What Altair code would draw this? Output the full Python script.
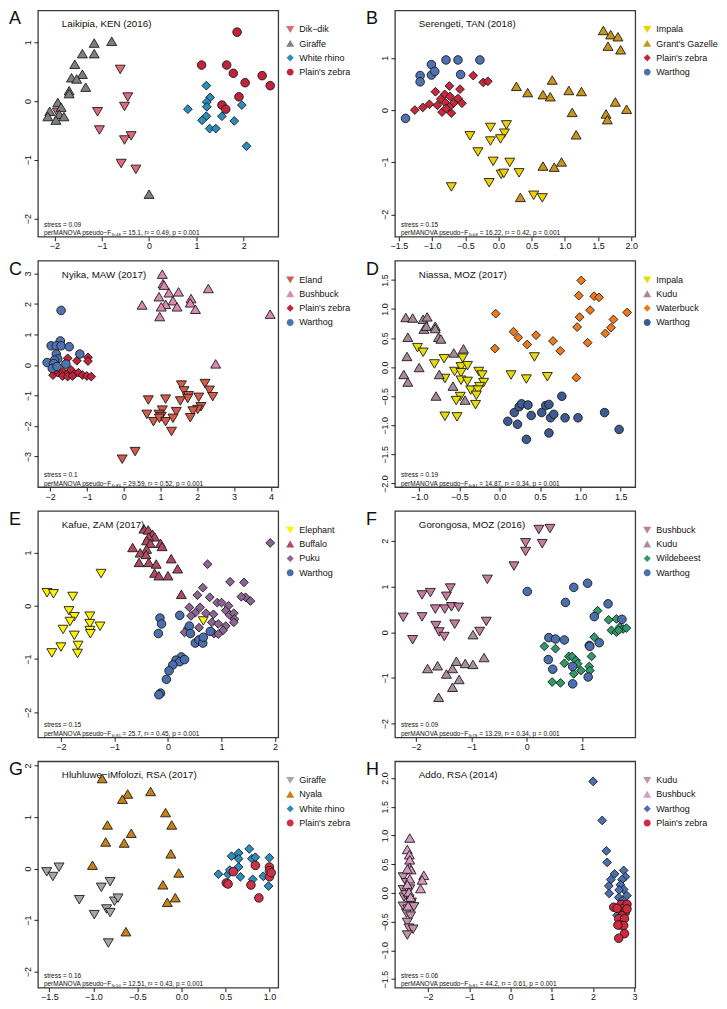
import altair as alt
import pandas as pd

FONT = "Liberation Sans"
# unit-box symbol paths: down triangle, up triangle, diamond, circle (R pch 25, 24, 23, 21 look)
SHAPES = [
    "M0,0.9L1,-0.8L-1,-0.8Z",
    "M0,-0.9L1,0.8L-1,0.8Z",
    "M0,-0.88L0.88,0L0,0.88L-0.88,0Z",
    "M0.86,0A0.86,0.86,0,1,1,-0.86,0A0.86,0.86,0,1,1,0.86,0Z",
]

# ---------------- Panel A ----------------
A_SITE = "Laikipia, KEN (2016)"
A_SPECIES = ["Dik−dik", "Giraffe", "White rhino", "Plain's zebra"]
A_COLORS = ["#E5687C", "#7F7F7F", "#2B8CBE", "#C0233A"]
A_DIKDIK = [(-0.61, 0.54), (-0.45, 0.07), (-0.52, -0.09), (-1.09, -0.18), (-1.05, -0.49),
            (-0.38, -0.59), (-0.52, -0.66), (-0.59, -1.06), (-0.28, -1.16), (-1.94, -0.19)]
A_GIRAFFE = [(-1.16, 0.98), (-0.79, 1.01), (-1.41, 0.80), (-1.16, 0.80), (-1.57, 0.62), (-1.64, 0.39),
             (-1.41, 0.45), (-1.53, 0.37), (-1.34, 0.23), (-1.69, 0.17), (-1.69, 0.12), (-1.93, -0.03),
             (-1.86, -0.11), (-2.10, -0.18), (-1.90, -0.23), (-1.80, -0.27), (-2.14, -0.27), (-1.97, -0.33),
             (0.0, -1.59)]
A_RHINO = [(0.82, -0.14), (1.21, 0.26), (1.29, 0.06), (1.22, -0.02), (1.22, -0.10), (1.21, -0.26),
           (1.12, -0.33), (1.28, -0.47), (1.41, -0.47), (1.54, -0.26), (1.96, -0.07), (1.80, -0.34),
           (2.06, -0.77)]
A_ZEBRA = [(1.86, 1.17), (1.11, 0.61), (1.64, 0.61), (1.78, 0.47), (2.03, 0.31), (2.39, 0.43),
           (2.56, 0.26), (1.90, 0.07), (1.54, -0.07), (1.62, -0.14)]
A_STRESS = "stress = 0.09"
A_PERM = "perMANOVA pseudo−F₃,₄₈ = 15.1, r² = 0.49, p = 0.001"
A_XDOM, A_YDOM = [-2.35, 2.73], [-2.31, 1.54]
A_XTICKS, A_YTICKS = [-2, -1, 0, 1, 2], [-2, -1, 0, 1]

# ---------------- Panel B ----------------
B_SITE = "Serengeti, TAN (2018)"
B_SPECIES = ["Impala", "Grant's Gazelle", "Plain's zebra", "Warthog"]
B_COLORS = ["#F0D000", "#C8961A", "#C8283C", "#4F72B0"]
B_IMPALA = [(-0.43, -0.49), (-0.12, -0.33), (0.12, -0.28), (0.09, -0.44), (-0.12, -0.59), (0.03, -0.55),
            (-0.31, -0.80), (-0.08, -0.98), (0.17, -1.00), (0.04, -1.23), (0.08, -1.21), (0.31, -1.20),
            (-0.14, -1.39), (-0.71, -1.47), (0.53, -1.63), (0.66, -1.68)]
B_GAZELLE = [(1.58, 1.52), (1.69, 1.44), (1.80, 1.40), (1.65, 1.22), (1.84, 1.15), (1.76, 0.15),
             (1.93, 0.01), (1.62, -0.08), (1.64, -0.19), (0.27, 0.45), (0.44, 0.33), (0.67, 0.29),
             (0.78, 0.25), (0.81, 0.57), (1.06, 0.37), (1.25, 0.35), (1.11, -0.05), (1.17, -0.48),
             (0.95, -1.00), (0.84, -1.10), (0.67, -1.08), (0.33, -1.68)]
B_ZEBRA = [(-1.26, 0.00), (-1.04, 0.11), (-0.95, 0.35), (-0.81, 0.30), (-0.74, 0.46), (-0.58, 0.40),
           (-0.38, 0.66), (-0.23, 0.53), (-0.16, 0.55), (-1.14, 0.05), (-0.87, 0.21), (-0.80, 0.14),
           (-0.73, 0.26), (-0.68, 0.13), (-0.61, 0.22), (-0.55, 0.13), (-0.85, -0.04), (-0.71, -0.06),
           (-0.74, 0.06), (-0.79, 0.03), (-0.92, 0.09)]
B_WARTHOG = [(-1.40, -0.16), (-1.18, 0.66), (-1.18, 0.54), (-1.01, 0.87), (-1.01, 0.67), (-0.96, 0.74),
             (-0.79, 0.96), (-0.61, 0.96), (-0.57, 0.68), (-0.28, 0.96)]
B_STRESS = "stress = 0.15"
B_PERM = "perMANOVA pseudo−F₃,₆₈ = 16.22, r² = 0.42, p = 0.001"
B_XDOM, B_YDOM = [-1.56, 2.06], [-2.43, 1.91]
B_XTICKS, B_YTICKS = [-1.5, -1.0, -0.5, 0.0, 0.5, 1.0, 1.5, 2.0], [-2, -1, 0, 1]

# ---------------- Panel C ----------------
C_SITE = "Nyika, MAW (2017)"
C_SPECIES = ["Eland", "Bushbuck", "Plain's zebra", "Warthog"]
C_COLORS = ["#D65A4A", "#D88AB0", "#C0233A", "#4F72B0"]
C_ELAND = [(1.57, -0.65), (1.64, -0.84), (1.76, -1.00), (1.74, -1.09), (2.21, -0.60), (2.33, -0.82),
           (2.42, -1.03), (2.04, -1.05), (0.67, -1.14), (1.14, -1.11), (1.54, -1.17), (2.10, -1.36),
           (2.01, -1.45), (1.88, -1.50), (1.05, -1.47), (1.43, -1.52), (0.63, -1.61), (0.96, -1.61),
           (1.02, -1.68), (1.81, -1.72), (0.81, -1.85), (0.97, -1.74), (1.14, -1.85), (1.34, -1.74),
           (1.30, -2.17), (0.31, -2.83), (-0.04, -3.08)]
C_BUSHBUCK = [(1.05, 2.97), (1.07, 2.66), (1.10, 2.61), (1.23, 2.36), (1.49, 2.39), (2.30, 2.50),
              (0.50, 1.96), (0.96, 2.23), (1.34, 2.10), (1.83, 2.17), (1.81, 2.03), (1.14, 1.98),
              (1.02, 1.90), (1.45, 1.90), (1.95, 1.82), (0.98, 1.58), (3.98, 1.66), (2.50, 0.03)]
C_ZEBRA = [(-1.52, 0.22), (-1.27, 0.14), (-0.97, 0.25), (-0.97, 0.13), (-1.92, -0.33), (-1.79, -0.25),
           (-1.65, -0.22), (-1.52, -0.27), (-1.43, -0.16), (-1.34, -0.29), (-1.23, -0.25), (-1.12, -0.33),
           (-1.00, -0.36), (-0.88, -0.38), (-1.66, -0.36), (-1.52, -0.38), (-1.84, -0.16), (-1.39, -0.36)]
C_WARTHOG = [(-1.70, 1.79), (-1.72, 0.79), (-1.97, 0.63), (-1.83, 0.63), (-1.70, 0.63), (-1.48, 0.60),
             (-1.19, 0.36), (-1.83, 0.36), (-1.79, 0.20), (-1.88, 0.16), (-2.08, 0.08), (-1.90, 0.05),
             (-1.57, 0.03), (-1.94, -0.11), (-1.81, -0.05)]
C_STRESS = "stress = 0.1"
C_PERM = "perMANOVA pseudo−F₃,₈₃ = 29.59, r² = 0.52, p = 0.001"
C_XDOM, C_YDOM = [-2.33, 4.20], [-4.0, 3.42]
C_XTICKS, C_YTICKS = [-2, -1, 0, 1, 2, 3, 4], [-3, -2, -1, 0, 1, 2, 3]

# ---------------- Panel D ----------------
D_SITE = "Niassa, MOZ (2017)"
D_SPECIES = ["Impala", "Kudu", "Waterbuck", "Warthog"]
D_COLORS = ["#E8DC00", "#A8899C", "#F07A1A", "#3D5A92"]
D_IMPALA = [(-1.02, 0.34), (-0.95, 0.26), (-0.81, 0.06), (-0.69, 0.15), (-0.68, -0.19), (-0.56, -0.07),
            (-0.46, 0.16), (-0.48, 0.01), (-0.40, 0.03), (-0.48, -0.09), (-0.48, -0.22), (-0.40, -0.24),
            (-0.36, -0.39), (-0.26, -0.07), (-0.22, -0.13), (-0.20, -0.26), (-0.25, -0.33), (-0.27, -0.39),
            (-0.29, -0.48), (-0.49, -0.50), (-0.54, -0.57), (-0.30, -0.64), (-0.68, -0.84), (-0.53, -0.85),
            (0.14, -0.13), (0.33, -0.20), (0.43, 0.18), (0.59, -0.16)]
D_KUDU = [(-1.165, 0.85), (-1.08, 0.84), (-0.95, 0.82), (-0.90, 0.86), (-0.94, 0.65), (-0.91, 0.70),
          (-0.80, 0.70), (-0.80, 0.66), (-0.76, 0.51), (-0.73, 0.48), (-1.14, 0.51), (-1.15, 0.18),
          (-1.19, -0.13), (-1.14, -0.26), (-1.00, -0.01), (-0.75, -0.13), (-0.79, -0.50), (-0.58, -0.33),
          (-0.57, 0.24), (-0.45, 0.31), (-0.43, -0.57)]
D_WATERBUCK = [(-0.05, 0.92), (-0.06, 0.32), (0.17, 0.61), (0.23, 0.51), (0.34, 0.39), (0.45, 0.55),
               (0.66, 0.45), (0.75, 0.28), (1.01, 1.49), (0.98, 1.23), (1.17, 1.22), (1.23, 1.20),
               (1.12, 0.98), (0.99, 0.86), (0.96, 0.69), (1.09, 0.42), (1.31, 0.58), (1.38, 0.68),
               (1.41, 0.82), (1.58, 0.94), (0.95, -0.18)]
D_WARTHOG = [(0.10, -0.93), (0.18, -0.78), (0.22, -0.98), (0.24, -0.68), (0.27, -0.63), (0.33, -1.24),
             (0.35, -0.65), (0.39, -0.83), (0.52, -0.78), (0.57, -0.66), (0.61, -0.64), (0.61, -1.13),
             (0.63, -0.87), (0.67, -0.81), (0.77, -0.50), (0.81, -0.87), (0.97, -0.87), (1.30, -0.78),
             (1.48, -1.07)]
D_STRESS = "stress = 0.19"
D_PERM = "perMANOVA pseudo−F₃,₈₇ = 14.87, r² = 0.34, p = 0.001"
D_XDOM, D_YDOM = [-1.30, 1.68], [-2.06, 1.83]
D_XTICKS, D_YTICKS = [-1.0, -0.5, 0.0, 0.5, 1.0, 1.5], [-2.0, -1.5, -1.0, -0.5, 0.0, 0.5, 1.0, 1.5]

# ---------------- Panel E ----------------
E_SITE = "Kafue, ZAM (2017)"
E_SPECIES = ["Elephant", "Buffalo", "Puku", "Warthog"]
E_COLORS = ["#FFF200", "#B04A62", "#8E6496", "#4A6FAF"]
E_ELEPHANT = [(-2.26, 0.25), (-2.14, 0.23), (-1.78, 0.18), (-1.25, 0.61), (-1.85, -0.09), (-1.75, -0.20),
              (-1.83, -0.29), (-1.96, -0.44), (-1.75, -0.55), (-1.46, -0.19), (-1.46, -0.33), (-1.27, -0.38),
              (-1.46, -0.46), (-1.45, -0.52), (-1.68, -0.74), (-2.00, -0.77), (-2.17, -0.88), (-1.69, -0.89),
              (0.66, -0.28)]
E_BUFFALO = [(-0.45, 1.44), (-0.37, 1.42), (-0.29, 1.34), (-0.25, 1.29), (-0.36, 1.29), (-0.40, 1.22),
             (-0.33, 1.17), (-0.14, 1.17), (-0.11, 1.11), (-0.66, 1.09), (-0.40, 1.06), (-0.52, 0.99),
             (-0.41, 0.96), (0.06, 0.88), (-0.54, 0.81), (-0.36, 0.81), (-0.22, 0.78), (0.18, 0.69),
             (-0.25, 0.61), (-0.17, 0.56), (0.0, 0.56), (0.25, 0.21)]
E_PUKU = [(1.91, 1.18), (0.74, 0.78), (1.16, 0.45), (1.42, 0.44), (0.65, 0.34), (0.55, 0.20), (0.78, 0.16),
          (0.40, -0.03), (0.60, -0.03), (0.51, -0.13), (0.43, -0.19), (0.71, -0.14), (0.85, -0.16),
          (0.92, 0.06), (1.00, 0.06), (1.13, 0.0), (1.08, -0.09), (1.15, -0.17), (1.23, -0.14),
          (1.24, -0.25), (1.23, -0.31), (1.45, 0.16), (1.37, 0.17), (1.54, 0.09), (0.58, -0.41),
          (0.82, -0.31), (0.94, -0.34), (1.08, -0.38), (1.03, -0.46), (0.86, -0.52), (0.94, -0.53),
          (0.37, -0.42), (0.31, -0.50)]
E_WARTHOG = [(-0.15, -0.23), (-0.12, -0.34), (-0.18, -0.52), (0.22, -0.18), (0.40, -0.38), (0.42, -0.52),
             (0.51, -0.70), (0.58, -0.64), (0.65, -0.70), (0.66, -0.59), (0.79, -0.48), (0.25, -0.96),
             (0.15, -1.02), (0.22, -1.05), (0.31, -1.01), (0.09, -1.11), (0.02, -1.22), (-0.03, -1.38),
             (-0.14, -1.64), (-0.17, -1.67)]
E_STRESS = "stress = 0.15"
E_PERM = "perMANOVA pseudo−F₃,₉₅ = 25.7, r² = 0.45, p = 0.001"
E_XDOM, E_YDOM = [-2.43, 2.06], [-2.47, 1.78]
E_XTICKS, E_YTICKS = [-2, -1, 0, 1, 2], [-2, -1, 0, 1]

# ---------------- Panel F ----------------
F_SITE = "Gorongosa, MOZ (2016)"
F_SPECIES = ["Bushbuck", "Kudu", "Wildebeest", "Warthog"]
F_COLORS = ["#C47C9E", "#A8909E", "#2E9A68", "#4A6FAF"]
F_BUSHBUCK = [(-2.23, 0.33), (-2.06, -0.16), (-1.89, 0.82), (-1.74, 0.87), (-1.89, 0.34), (-1.65, 0.51),
              (-1.48, 0.51), (-1.45, 0.79), (-1.38, 0.97), (-1.36, 0.56), (-1.23, 0.55), (-1.64, 0.15),
              (-1.58, 0.01), (-1.49, -0.09), (-1.30, 0.18), (-0.71, 1.16), (-0.73, 0.24), (-0.85, 0.02),
              (-0.23, 1.45), (-0.02, 1.96), (-0.02, 1.77), (0.28, 1.94), (0.22, 2.25), (0.42, 2.27)]
F_KUDU = [(-1.79, -0.80), (-1.61, -0.74), (-1.45, -0.92), (-1.34, -0.80), (-1.27, -0.64), (-1.22, -1.04),
          (-1.34, -1.21), (-1.59, -1.43), (-1.11, -0.69), (-0.97, -0.71), (-0.97, -0.06), (-0.77, -0.56)]
F_WILDEBEEST = [(0.32, -0.31), (0.52, -0.36), (0.46, -1.09), (0.61, -1.11), (0.76, -0.53), (0.82, -0.53),
                (0.89, -0.62), (0.92, -0.69), (0.68, -0.68), (0.85, -0.91), (0.98, -0.84), (1.17, -0.53),
                (1.13, -0.75), (1.14, -0.84), (1.22, -0.11), (1.28, 0.47), (1.48, 0.27), (1.62, 0.29),
                (1.53, 0.04), (1.62, 0.0), (1.68, 0.11), (1.74, 0.07), (1.80, 0.09), (1.66, 0.04)]
F_WARTHOG = [(0.01, 0.89), (0.85, 0.98), (1.10, 1.07), (0.70, 0.65), (1.47, 0.62), (1.22, 0.34),
             (1.72, 0.28), (0.40, -0.12), (0.52, -0.15), (0.68, -0.17), (1.13, -0.29), (1.14, -0.31),
             (1.31, -0.23), (0.39, -0.60), (0.47, -0.81), (0.83, -0.75), (0.83, -1.13), (1.11, -0.98)]
F_STRESS = "stress = 0.09"
F_PERM = "perMANOVA pseudo−F₃,₇₈ = 13.29, r² = 0.34, p = 0.001"
F_XDOM, F_YDOM = [-2.38, 1.96], [-2.30, 2.65]
F_XTICKS, F_YTICKS = [-2, -1, 0, 1], [-2, -1, 0, 1, 2]

# ---------------- Panel G ----------------
G_SITE = "Hluhluwe−iMfolozi, RSA (2017)"
G_SPECIES = ["Giraffe", "Nyala", "White rhino", "Plain's zebra"]
G_COLORS = ["#A6A6A6", "#C88214", "#2B8CBE", "#D03048"]
G_GIRAFFE = [(-1.53, -0.06), (-1.46, -0.15), (-1.39, 0.03), (-1.16, -0.60), (-0.99, -0.89), (-0.91, -0.36),
             (-0.81, -0.25), (-0.85, -0.78), (-0.81, -0.85), (-0.76, -0.63), (-0.72, -0.57), (-0.83, -1.44)]
G_NYALA = [(-0.90, 1.74), (-0.35, 1.49), (-0.61, 1.44), (-0.67, 1.34), (-0.18, 1.08), (-0.11, 0.84),
           (-0.84, 0.84), (-0.57, 0.68), (-0.86, 0.51), (-0.65, 0.49), (-0.12, 0.28), (-1.01, 0.06),
           (-0.03, -0.09), (-0.21, -0.32), (-0.07, -0.57), (-0.16, -0.66), (-0.63, -1.23)]
G_RHINO = [(0.42, -0.11), (0.53, -0.11), (0.55, -0.03), (0.57, 0.24), (0.65, 0.30), (0.65, 0.19),
           (0.65, 0.03), (0.67, -0.16), (0.77, 0.38), (0.80, 0.19), (0.84, 0.22), (0.81, -0.21),
           (0.93, -0.15), (0.99, -0.34), (1.00, 0.21)]
G_ZEBRA = [(0.51, -0.28), (0.53, -0.30), (0.59, -0.06), (0.84, 0.06), (0.79, -0.32), (0.88, -0.57),
           (1.00, 0.03), (1.00, -0.04), (1.00, -0.16), (1.02, -0.08)]
G_STRESS = "stress = 0.16"
G_PERM = "perMANOVA pseudo−F₃,₅₀ = 12.51, r² = 0.43, p = 0.001"
G_XDOM, G_YDOM = [-1.63, 1.10], [-2.31, 2.08]
G_XTICKS, G_YTICKS = [-1.5, -1.0, -0.5, 0.0, 0.5, 1.0], [-2, -1, 0, 1, 2]

# ---------------- Panel H ----------------
H_SITE = "Addo, RSA (2014)"
H_SPECIES = ["Kudu", "Bushbuck", "Warthog", "Plain's zebra"]
H_COLORS = ["#C690AA", "#DA9AC4", "#4A6FAF", "#D0283C"]
H_KUDU = [(-2.60, 0.28), (-2.52, 0.18), (-2.60, 0.06), (-2.58, -0.07), (-2.46, -0.11), (-2.40, -0.16),
          (-2.60, -0.23), (-2.49, -0.28), (-2.34, -0.24), (-2.52, -0.35), (-2.42, -0.40), (-2.50, -0.51),
          (-2.46, -0.61), (-2.36, -0.63), (-2.50, -0.73), (-2.44, 0.07), (-2.54, -0.03)]
H_BUSHBUCK = [(-2.44, 0.95), (-2.50, 0.75), (-2.45, 0.66), (-2.44, 0.57), (-2.44, 0.44), (-2.41, 0.40),
              (-2.50, 0.41), (-2.44, 0.24), (-2.50, 0.14), (-2.10, 0.30), (-2.14, 0.22), (-2.18, 0.07),
              (-2.46, 0.01), (-2.42, -0.08), (-2.48, -0.23)]
H_WARTHOG = [(2.00, 1.94), (2.22, 1.26), (2.32, 0.73), (2.34, 0.53), (2.52, 0.33), (2.43, 0.23),
             (2.38, 0.12), (2.39, -0.01), (2.74, 0.39), (2.78, 0.28), (2.70, 0.23), (2.66, 0.14),
             (2.74, 0.06), (2.63, 0.05), (2.82, -0.05), (2.62, -0.08), (2.70, -0.14), (2.58, -0.39)]
H_ZEBRA = [(2.50, -0.25), (2.68, -0.20), (2.82, -0.20), (2.70, -0.28), (2.78, -0.34), (2.70, -0.40),
           (2.62, -0.45), (2.76, -0.45), (2.66, -0.56), (2.74, -0.57), (2.60, -0.56), (2.76, -0.71),
           (2.62, -0.79), (2.58, -0.27), (2.82, -0.28)]
H_STRESS = "stress = 0.06"
H_PERM = "perMANOVA pseudo−F₃,₈₅ = 44.2, r² = 0.61, p = 0.001"
H_XDOM, H_YDOM = [-2.80, 3.02], [-1.65, 2.29]
H_XTICKS, H_YTICKS = [-2, -1, 0, 1, 2, 3], [-1.5, -1.0, -0.5, 0.0, 0.5, 1.0, 1.5, 2.0]

W, H = 241, 227


def panel(letter, site, species, colors, groups, xdom, ydom, xticks, yticks, xfmt, yfmt, stress, perm):
    rows = []
    for sp, pts in zip(species, groups):
        for x, y in pts:
            rows.append({"sp": sp, "x": x, "y": y})
    df = pd.DataFrame(rows)
    leg = alt.Legend(
        title=None, orient="none", legendX=W + 7, legendY=14, padding=0,
        symbolSize=66, symbolStrokeColor="#1a1a1a", symbolStrokeWidth=0.9,
        labelFont=FONT, labelFontSize=9, labelColor="#111", labelOffset=4,
        rowPadding=2.3, symbolOpacity=1,
    )
    points = alt.Chart(df).mark_point(
        filled=True, size=100, stroke="#1a1a1a", strokeWidth=0.9, opacity=1
    ).encode(
        x=alt.X("x:Q", scale=alt.Scale(domain=xdom, nice=False, zero=False),
                axis=alt.Axis(values=xticks, format=xfmt, title=None)),
        y=alt.Y("y:Q", scale=alt.Scale(domain=ydom, nice=False, zero=False),
                axis=alt.Axis(values=yticks, format=yfmt, title=None, labelAngle=270,
                              labelAlign="center", labelBaseline="bottom")),
        color=alt.Color("sp:N", scale=alt.Scale(domain=species, range=colors), legend=leg),
        shape=alt.Shape("sp:N", scale=alt.Scale(domain=species, range=SHAPES), legend=leg),
    )
    site_t = alt.Chart(pd.DataFrame({"t": [site]})).mark_text(
        font=FONT, fontSize=9.8, align="left", baseline="middle", color="#111"
    ).encode(x=alt.value(24), y=alt.value(14), text="t:N")
    stress_t = alt.Chart(pd.DataFrame({"t": [stress]})).mark_text(
        font=FONT, fontSize=6.5, align="left", baseline="middle", color="#111"
    ).encode(x=alt.value(6), y=alt.value(H - 12), text="t:N")
    perm_t = alt.Chart(pd.DataFrame({"t": [perm]})).mark_text(
        font=FONT, fontSize=6.5, align="left", baseline="middle", color="#111"
    ).encode(x=alt.value(6), y=alt.value(H - 3.5), text="t:N")
    letter_t = alt.Chart(pd.DataFrame({"t": [letter]})).mark_text(
        font=FONT, fontSize=18, align="left", baseline="top", color="#111"
    ).encode(x=alt.value(-29), y=alt.value(0), text="t:N")
    return alt.layer(points, site_t, stress_t, perm_t, letter_t).properties(width=W, height=H)


panels = [
    panel("A", A_SITE, A_SPECIES, A_COLORS, [A_DIKDIK, A_GIRAFFE, A_RHINO, A_ZEBRA],
          A_XDOM, A_YDOM, A_XTICKS, A_YTICKS, "d", "d", A_STRESS, A_PERM),
    panel("B", B_SITE, B_SPECIES, B_COLORS, [B_IMPALA, B_GAZELLE, B_ZEBRA, B_WARTHOG],
          B_XDOM, B_YDOM, B_XTICKS, B_YTICKS, ".1f", "d", B_STRESS, B_PERM),
    panel("C", C_SITE, C_SPECIES, C_COLORS, [C_ELAND, C_BUSHBUCK, C_ZEBRA, C_WARTHOG],
          C_XDOM, C_YDOM, C_XTICKS, C_YTICKS, "d", "d", C_STRESS, C_PERM),
    panel("D", D_SITE, D_SPECIES, D_COLORS, [D_IMPALA, D_KUDU, D_WATERBUCK, D_WARTHOG],
          D_XDOM, D_YDOM, D_XTICKS, D_YTICKS, ".1f", ".1f", D_STRESS, D_PERM),
    panel("E", E_SITE, E_SPECIES, E_COLORS, [E_ELEPHANT, E_BUFFALO, E_PUKU, E_WARTHOG],
          E_XDOM, E_YDOM, E_XTICKS, E_YTICKS, "d", "d", E_STRESS, E_PERM),
    panel("F", F_SITE, F_SPECIES, F_COLORS, [F_BUSHBUCK, F_KUDU, F_WILDEBEEST, F_WARTHOG],
          F_XDOM, F_YDOM, F_XTICKS, F_YTICKS, "d", "d", F_STRESS, F_PERM),
    panel("G", G_SITE, G_SPECIES, G_COLORS, [G_GIRAFFE, G_NYALA, G_RHINO, G_ZEBRA],
          G_XDOM, G_YDOM, G_XTICKS, G_YTICKS, ".1f", "d", G_STRESS, G_PERM),
    panel("H", H_SITE, H_SPECIES, H_COLORS, [H_KUDU, H_BUSHBUCK, H_WARTHOG, H_ZEBRA],
          H_XDOM, H_YDOM, H_XTICKS, H_YTICKS, "d", ".1f", H_STRESS, H_PERM),
]

chart = alt.concat(
    *panels, columns=2, spacing=alt.RowColnumber(row=8, column=13)
).resolve_scale(
    x="independent", y="independent", color="independent", shape="independent"
).properties(
    padding=0, background="white"
).configure_view(
    stroke="#3a3a3a", strokeWidth=1.3
).configure_axis(
    grid=False, domain=False, tickSize=4, tickColor="#222", tickWidth=1,
    labelFont=FONT, labelFontSize=9, labelColor="#111", labelPadding=1,
    labelOverlap=False, labelFlush=False,
)

chart.save("out.html", embed_options={"renderer": "svg", "actions": False})
